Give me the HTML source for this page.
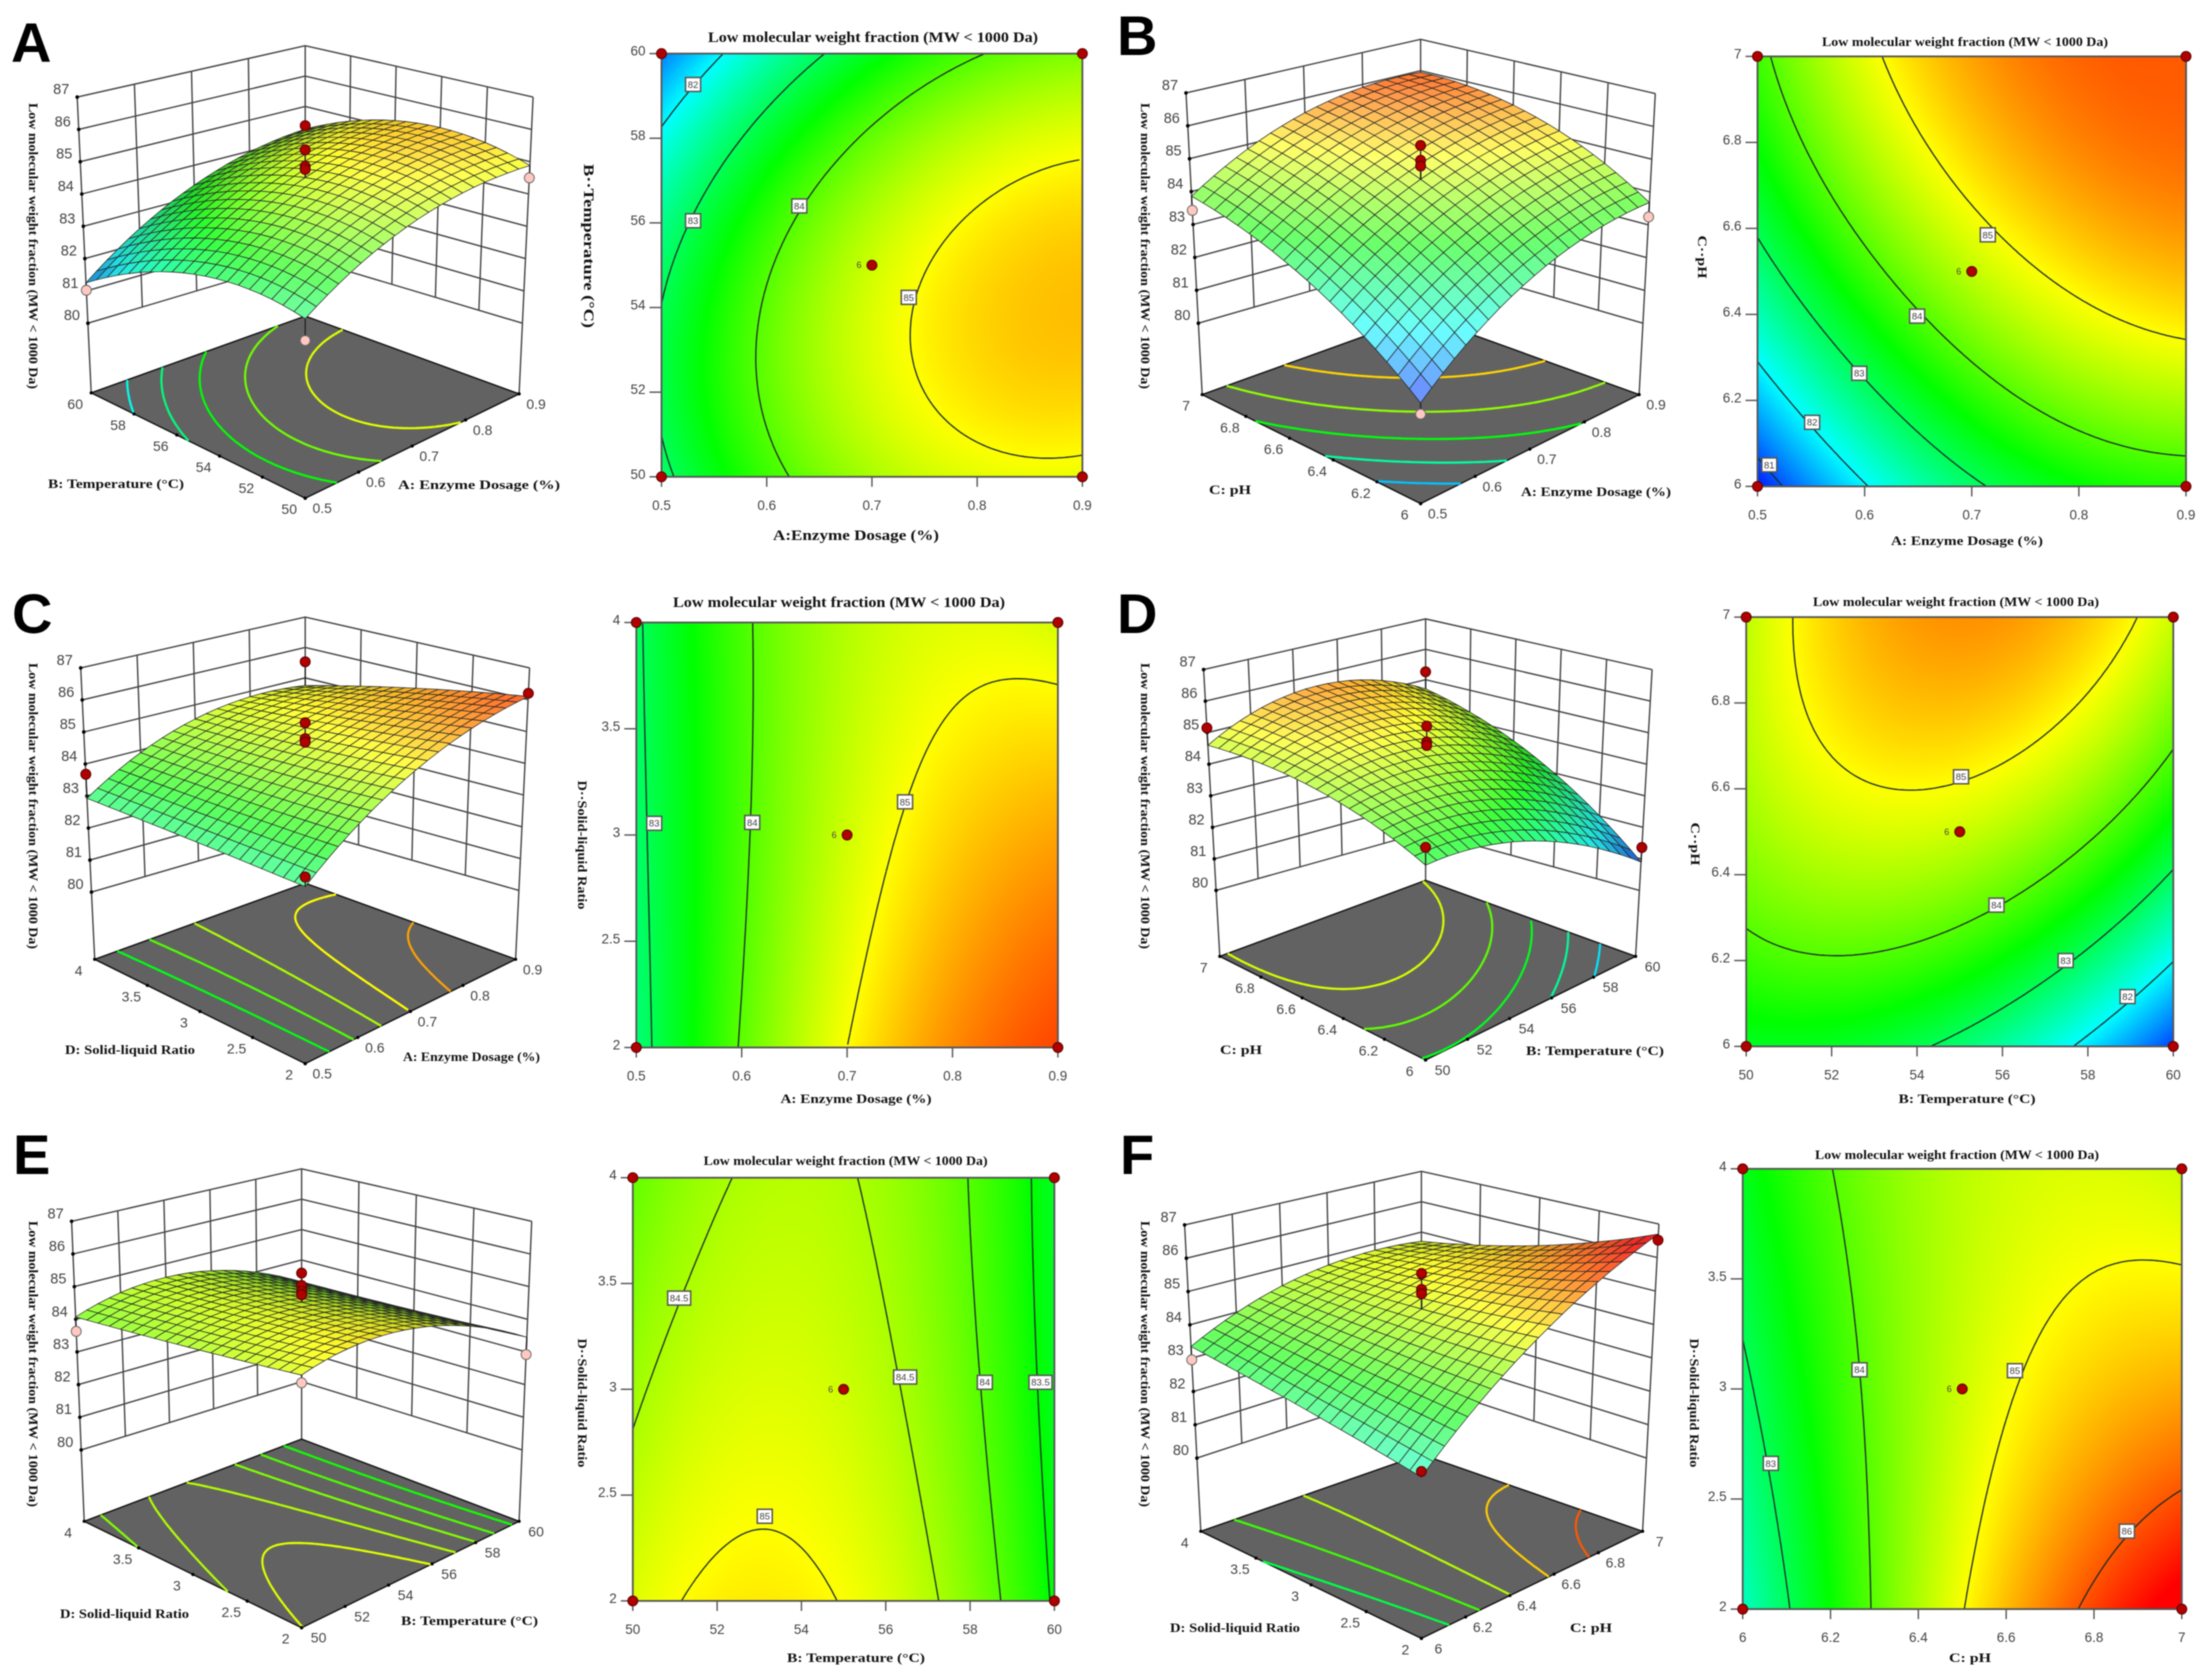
<!DOCTYPE html>
<html lang="en">
<head>
<meta charset="utf-8">
<title>Response surface and contour plots: low molecular weight fraction</title>
<style>
html,body{margin:0;padding:0;background:#fff;}
#stage{position:relative;width:2205px;height:1677px;overflow:hidden;background:#fff;filter:blur(0.5px);}
#stage canvas{position:absolute;display:block;}
#chart-svg{position:absolute;left:0;top:0;}
text{font-family:"Liberation Serif","Noto Serif CJK SC",serif;fill:#111;}
text.tk{font-family:"Liberation Sans",sans-serif;fill:#444;}
.ttl{font-weight:bold;}
.let{font-family:"Liberation Sans",sans-serif;font-weight:bold;font-size:56px;fill:#000;}
</style>
</head>
<body>
<div id="stage">
<svg id="chart-svg" width="2205" height="1677" viewBox="0 0 2205 1677">
<g id="marks"></g>
<g>
<text class="let" x="11" y="62">A</text>
<text class="let" x="1117" y="55">B</text>
<text class="let" x="12" y="633">C</text>
<text class="let" x="1117" y="633">D</text>
<text class="let" x="13" y="1174">E</text>
<text class="let" x="1120" y="1174">F</text>
</g>
<g>
<text class="ttl" font-size="15" x="708" y="42" textLength="330" lengthAdjust="spacingAndGlyphs">Low molecular weight fraction (MW &lt; 1000 Da)</text>
<text class="ttl" font-size="13" x="1822" y="46" textLength="286" lengthAdjust="spacingAndGlyphs">Low molecular weight fraction (MW &lt; 1000 Da)</text>
<text class="ttl" font-size="15" x="673" y="607" textLength="332" lengthAdjust="spacingAndGlyphs">Low molecular weight fraction (MW &lt; 1000 Da)</text>
<text class="ttl" font-size="13" x="1813" y="606" textLength="286" lengthAdjust="spacingAndGlyphs">Low molecular weight fraction (MW &lt; 1000 Da)</text>
<text class="ttl" font-size="13" x="703.6" y="1165" textLength="284" lengthAdjust="spacingAndGlyphs">Low molecular weight fraction (MW &lt; 1000 Da)</text>
<text class="ttl" font-size="13" x="1815" y="1159" textLength="284" lengthAdjust="spacingAndGlyphs">Low molecular weight fraction (MW &lt; 1000 Da)</text>
</g>
<g>
<text class="ttl" font-size="15" x="856" y="540" text-anchor="middle" textLength="166" lengthAdjust="spacingAndGlyphs">A:Enzyme Dosage (%)</text>
<text class="ttl" font-size="13" x="1967" y="545" text-anchor="middle" textLength="152" lengthAdjust="spacingAndGlyphs">A: Enzyme Dosage (%)</text>
<text class="ttl" font-size="13" x="856" y="1103" text-anchor="middle" textLength="151" lengthAdjust="spacingAndGlyphs">A: Enzyme Dosage (%)</text>
<text class="ttl" font-size="13" x="1967" y="1103" text-anchor="middle" textLength="137" lengthAdjust="spacingAndGlyphs">B: Temperature (°C)</text>
<text class="ttl" font-size="13" x="856" y="1662" text-anchor="middle" textLength="138" lengthAdjust="spacingAndGlyphs">B: Temperature (°C)</text>
<text class="ttl" font-size="13" x="1970" y="1662" text-anchor="middle" textLength="42" lengthAdjust="spacingAndGlyphs">C: pH</text>
</g>
<g>
<text class="ttl" font-size="15" transform="translate(584,246) rotate(90)" text-anchor="middle" textLength="164" lengthAdjust="spacingAndGlyphs">B··Temperature (°C)</text>
<text class="ttl" font-size="13" transform="translate(1698,257) rotate(90)" text-anchor="middle" textLength="43" lengthAdjust="spacingAndGlyphs">C··pH</text>
<text class="ttl" font-size="13" transform="translate(578,845) rotate(90)" text-anchor="middle" textLength="129" lengthAdjust="spacingAndGlyphs">D··Solid-liquid Ratio</text>
<text class="ttl" font-size="13" transform="translate(1691,844) rotate(90)" text-anchor="middle" textLength="43" lengthAdjust="spacingAndGlyphs">C··pH</text>
<text class="ttl" font-size="13" transform="translate(578,1403) rotate(90)" text-anchor="middle" textLength="129" lengthAdjust="spacingAndGlyphs">D··Solid-liquid Ratio</text>
<text class="ttl" font-size="13" transform="translate(1690,1403) rotate(90)" text-anchor="middle" textLength="129" lengthAdjust="spacingAndGlyphs">D··Solid-liquid Ratio</text>
</g>
<g>
<text class="ttl" font-size="12.5" transform="translate(29,246) rotate(90)" text-anchor="middle" textLength="286" lengthAdjust="spacingAndGlyphs">Low molecular weight fraction (MW &lt; 1000 Da)</text>
<text class="ttl" font-size="12.5" transform="translate(1141,246) rotate(90)" text-anchor="middle" textLength="286" lengthAdjust="spacingAndGlyphs">Low molecular weight fraction (MW &lt; 1000 Da)</text>
<text class="ttl" font-size="12.5" transform="translate(29,806) rotate(90)" text-anchor="middle" textLength="286" lengthAdjust="spacingAndGlyphs">Low molecular weight fraction (MW &lt; 1000 Da)</text>
<text class="ttl" font-size="12.5" transform="translate(1141,806) rotate(90)" text-anchor="middle" textLength="286" lengthAdjust="spacingAndGlyphs">Low molecular weight fraction (MW &lt; 1000 Da)</text>
<text class="ttl" font-size="12.5" transform="translate(29,1364) rotate(90)" text-anchor="middle" textLength="286" lengthAdjust="spacingAndGlyphs">Low molecular weight fraction (MW &lt; 1000 Da)</text>
<text class="ttl" font-size="12.5" transform="translate(1141,1364) rotate(90)" text-anchor="middle" textLength="286" lengthAdjust="spacingAndGlyphs">Low molecular weight fraction (MW &lt; 1000 Da)</text>
</g>
<g>
<text class="ttl" font-size="13" x="48" y="488" textLength="136" lengthAdjust="spacingAndGlyphs">B: Temperature (°C)</text>
<text class="ttl" font-size="13" x="398" y="489" textLength="162" lengthAdjust="spacingAndGlyphs">A: Enzyme Dosage (%)</text>
<text class="ttl" font-size="13" x="1209" y="494" textLength="42" lengthAdjust="spacingAndGlyphs">C: pH</text>
<text class="ttl" font-size="13" x="1521" y="496" textLength="150" lengthAdjust="spacingAndGlyphs">A: Enzyme Dosage (%)</text>
<text class="ttl" font-size="13" x="65" y="1054" textLength="130" lengthAdjust="spacingAndGlyphs">D: Solid-liquid Ratio</text>
<text class="ttl" font-size="13" x="403" y="1061" textLength="137" lengthAdjust="spacingAndGlyphs">A: Enzyme Dosage (%)</text>
<text class="ttl" font-size="13" x="1220" y="1054" textLength="42" lengthAdjust="spacingAndGlyphs">C: pH</text>
<text class="ttl" font-size="13" x="1526" y="1055" textLength="138" lengthAdjust="spacingAndGlyphs">B: Temperature (°C)</text>
<text class="ttl" font-size="13" x="60" y="1618" textLength="129" lengthAdjust="spacingAndGlyphs">D: Solid-liquid Ratio</text>
<text class="ttl" font-size="13" x="401" y="1625" textLength="137" lengthAdjust="spacingAndGlyphs">B: Temperature (°C)</text>
<text class="ttl" font-size="13" x="1170" y="1632" textLength="130" lengthAdjust="spacingAndGlyphs">D: Solid-liquid Ratio</text>
<text class="ttl" font-size="13" x="1570" y="1632" textLength="42" lengthAdjust="spacingAndGlyphs">C: pH</text>
</g>
</svg>
</div>
<script>
// ---- axis tick values ----
const enzymeTicks = [0.5, 0.6, 0.7, 0.8, 0.9];
const temperatureTicks = [50, 52, 54, 56, 58, 60];
const phTicks = [6, 6.2, 6.4, 6.6, 6.8, 7];
const ratioTicks = [2, 2.5, 3, 3.5, 4];
const responseTicks = [80, 81, 82, 83, 84, 85, 86, 87];

// ---- response read at low / mid / high of each factor (rows: y low to high, cols: x low to high) ----
const responseA = [[82.87, 84.49, 84.88], [82.88, 84.71, 85.35], [81.25, 83.37, 84.26]];
const responseB = [[80.66, 82.90, 83.68], [82.76, 84.63, 85.42], [83.86, 85.55, 85.95]];
const responseC = [[82.80, 85.00, 86.10], [82.88, 84.72, 85.53], [82.93, 84.55, 84.75]];
const responseD = [[83.30, 82.85, 80.90], [84.38, 84.70, 83.35], [84.60, 85.65, 84.70]];
const responseE = [[84.81, 84.98, 83.45], [84.43, 84.71, 83.33], [84.07, 84.53, 83.28]];
const responseF = [[82.36, 84.98, 86.70], [82.89, 84.71, 85.50], [83.35, 84.60, 84.70]];

// ---- contour levels on the 2D plots ----
const levelsA = [82, 83, 84, 85];
const levelsB = [81, 82, 83, 84, 85];
const levelsC = [83, 84, 85];
const levelsD = [82, 83, 84, 85];
const levelsE = [83.5, 84, 84.5, 85];
const levelsF = [83, 84, 85, 86];

// ---- contour levels projected on the 3D floor ----
const floorLevelsA = [82.1, 82.8, 83.48, 84.15, 84.82];
const floorLevelsB = [81.65, 82.55, 83.45, 84.35, 85.25];
const floorLevelsC = [83.4, 83.95, 84.5, 85.0, 85.55];
const floorLevelsD = [81.85, 82.6, 83.35, 84.05, 84.75];
const floorLevelsE = [83.6, 83.95, 84.25, 84.55, 84.82];
const floorLevelsF = [83.1, 83.85, 84.55, 85.3, 85.98];

// ---- contour label anchors: x, y, printed text ----
const labelsA = [[0.53, 59.27, '82'], [0.53, 56.05, '83'], [0.631, 56.4, '84'], [0.735, 54.24, '85']];
const labelsB = [[0.715, 6.585, '85'], [0.649, 6.396, '84'], [0.595, 6.263, '83'], [0.551, 6.149, '82'], [0.511, 6.05, '81']];
const labelsC = [[0.517, 3.055, '83'], [0.61, 3.059, '84'], [0.755, 3.156, '85']];
const labelsD = [[55.03, 6.628, '85'], [55.86, 6.329, '84'], [57.48, 6.2, '83'], [58.93, 6.116, '82']];
const labelsE = [[51.1, 3.431, '84.5'], [56.46, 3.058, '84.5'], [58.35, 3.033, '84'], [59.67, 3.033, '83.5'], [53.13, 2.4, '85']];
const labelsF = [[6.064, 2.662, '83'], [6.266, 3.087, '84'], [6.62, 3.083, '85'], [6.875, 2.354, '86']];

// ---- design points: x, y, measured response, state (r above surface, p below, h hidden under surface) ----
const pointsA = [[0.5, 60, 81.02, 'p'], [0.9, 50, 84.5, 'p'], [0.5, 50, 82.26, 'p'], [0.9, 60, 84.37, 'r'], [0.7, 55, 85.56, 'r'], [0.7, 55, 85.06, 'r'], [0.7, 55, 84.96, 'r']];
const pointsB = [[0.5, 7, 83.43, 'p'], [0.9, 6, 83.24, 'p'], [0.5, 6, 80.35, 'p'], [0.9, 7, 85.6, 'h'], [0.7, 6.5, 85.65, 'r'], [0.7, 6.5, 85.2, 'r'], [0.7, 6.5, 85.03, 'r']];
const pointsC = [[0.5, 4, 83.68, 'r'], [0.9, 2, 86.2, 'r'], [0.5, 2, 83.07, 'r'], [0.9, 4, 85.53, 'r'], [0.7, 3, 85.45, 'r'], [0.7, 3, 84.96, 'r'], [0.7, 3, 84.85, 'r']];
const pointsD = [[50, 7, 85.15, 'r'], [60, 6, 81.36, 'r'], [50, 6, 83.8, 'r'], [60, 7, 85.26, 'r'], [55, 6.5, 85.35, 'r'], [55, 6.5, 84.86, 'r'], [55, 6.5, 84.75, 'r']];
const pointsE = [[50, 4, 83.63, 'p'], [60, 2, 82.92, 'p'], [50, 2, 84.6, 'p'], [60, 4, 83.57, 'r'], [55, 3, 85.22, 'r'], [55, 3, 85.05, 'r'], [55, 3, 84.94, 'r']];
const pointsF = [[6, 4, 82.95, 'p'], [7, 2, 86.52, 'r'], [6, 2, 82.52, 'r'], [7, 4, 84.2, 'h'], [6.5, 3, 85.78, 'r'], [6.5, 3, 85.3, 'r'], [6.5, 3, 85.17, 'r']];

// ---- replicate count printed beside the centre point ----
const centerReplicates = '6';

// ---- layout: pixel geometry only ----
const panels = [
 {id:'a', grid:responseA, xt:enzymeTicks, yt:temperatureTicks, lev:levelsA, flev:floorLevelsA, lab:labelsA, pts:pointsA,
  frame:[661.5,1082.4,53.6,476.8],
  box:{L:[91.2,392.9],F:[305.2,498.2],R:[519.1,393.9],B:[305.2,316.1],L87:[77.2,97.1],L80y:323.2,R87y:97.1,R80y:323.2,B87y:45.7,sB:30.4,sF:35.7,gapF:77}},
 {id:'b', grid:responseB, xt:enzymeTicks, yt:phTicks, lev:levelsB, flev:floorLevelsB, lab:labelsB, pts:pointsB,
  frame:[1757.5,2186,56.4,486.4],
  box:{L:[1202.2,394.6],F:[1420.6,503.6],R:[1639.1,394.6],B:[1420.6,316],L87:[1186,92.9],L80y:323.2,R87y:93.6,R80y:323.2,B87y:39.3,sB:31.4,sF:35.7,gapF:77}},
 {id:'c', grid:responseC, xt:enzymeTicks, yt:ratioTicks, lev:levelsC, flev:floorLevelsC, lab:labelsC, pts:pointsC,
  frame:[636.3,1057.9,622.5,1047.5],
  box:{L:[94.7,959.3],F:[305.2,1063.6],R:[515.6,959.3],B:[305.2,883.2],L87:[80.7,667.9],L80y:892.1,R87y:667.9,R80y:890.4,B87y:617.1,sB:30.4,sF:35.7,gapF:77}},
 {id:'d', grid:responseD, xt:temperatureTicks, yt:phTicks, lev:levelsD, flev:floorLevelsD, lab:labelsD, pts:pointsD,
  frame:[1746.2,2173.3,617.1,1046.4],
  box:{L:[1219.8,956.4],F:[1425.6,1060],R:[1635.6,956.4],B:[1425.6,880.4],L87:[1203.6,669.6],L80y:890.4,R87y:669.6,R80y:890.4,B87y:618.9,sB:30.4,sF:35.7,gapF:77}},
 {id:'e', grid:responseE, xt:temperatureTicks, yt:ratioTicks, lev:levelsE, flev:floorLevelsE, lab:labelsE, pts:pointsE,
  frame:[632.8,1054.4,1177.7,1600.9],
  box:{L:[84.2,1521.3],F:[301.6,1627.7],R:[519.1,1521.3],B:[301.6,1439.1],L87:[71.6,1221.3],L80y:1449.9,R87y:1221.3,R80y:1449.9,B87y:1168.8,sB:30.4,sF:36.5,gapF:77}},
 {id:'f', grid:responseF, xt:phTicks, yt:ratioTicks, lev:levelsF, flev:floorLevelsF, lab:labelsF, pts:pointsF,
  frame:[1742.7,2181.8,1168.8,1609.1],
  box:{L:[1200.8,1531.3],F:[1421.4,1638.4],R:[1642.6,1531.3],B:[1421.4,1454.5],L87:[1184.6,1224.9],L80y:1458.1,R87y:1224.1,R80y:1458.1,B87y:1171.3,sB:30.4,sF:35.7,gapF:77}}
];

const SVGNS = 'http://www.w3.org/2000/svg';
const marks = document.getElementById('marks');
const stage = document.getElementById('stage');

function make(tag, attrs, parent) {
  const el = document.createElementNS(SVGNS, tag);
  for (const k in attrs) el.setAttribute(k, attrs[k]);
  parent.appendChild(el);
  return el;
}
function basis(p) { return [p * (p - 1) / 2, 1 - p * p, p * (p + 1) / 2]; }
function fieldAt(grid, u, v) {
  const bu = basis(2 * u - 1), bv = basis(2 * v - 1);
  let z = 0;
  for (let r = 0; r < 3; r++) for (let c = 0; c < 3; c++) z += grid[r][c] * bv[r] * bu[c];
  return z;
}
function rampColor(z) {
  const a = 80.5, q = 1.5;
  const f = Math.max(0, Math.min(3.9999, (z - a) / q));
  const i = Math.floor(f), w = f - i;
  if (i === 0) return [0, 255 * w, 255];
  if (i === 1) return [0, 255, 255 * (1 - w)];
  if (i === 2) return [255 * w, 255, 0];
  return [255, 255 * (1 - w), 0];
}
function cssColor(c) { return 'rgb(' + Math.round(c[0]) + ',' + Math.round(c[1]) + ',' + Math.round(c[2]) + ')'; }
function unit(val, ticks) { return (val - ticks[0]) / (ticks[ticks.length - 1] - ticks[0]); }
function fmt(n) { return String(n); }

function contourPath(grid, level, n, map) {
  let d = '';
  for (let i = 0; i < n; i++) for (let j = 0; j < n; j++) {
    const u0 = i / n, u1 = (i + 1) / n, v0 = j / n, v1 = (j + 1) / n;
    const a = fieldAt(grid, u0, v0) - level, b = fieldAt(grid, u1, v0) - level;
    const c = fieldAt(grid, u1, v1) - level, e = fieldAt(grid, u0, v1) - level;
    const hits = [];
    if (a * b < 0) hits.push([u0 + (u1 - u0) * a / (a - b), v0]);
    if (b * c < 0) hits.push([u1, v0 + (v1 - v0) * b / (b - c)]);
    if (c * e < 0) hits.push([u1 + (u0 - u1) * c / (c - e), v1]);
    if (e * a < 0) hits.push([u0, v1 + (v0 - v1) * e / (e - a)]);
    if (hits.length >= 2) {
      const p = map(hits[0][0], hits[0][1]), q = map(hits[1][0], hits[1][1]);
      d += 'M' + p[0].toFixed(1) + ' ' + p[1].toFixed(1) + 'L' + q[0].toFixed(1) + ' ' + q[1].toFixed(1);
    }
  }
  return d;
}

function makeProjector(b) {
  const cx = (b.F[0] + b.B[0]) / 2;
  const lean = ((cx - b.L87[0]) / (cx - b.L[0]) - 1) / (b.L[1] - b.L87[1]);
  const sL = (b.L80y - b.L87[1]) / 7, sR = (b.R80y - b.R87y) / 7;
  const gapL = b.L[1] - b.L80y, gapR = b.R[1] - b.R80y, gapB = b.B[1] - (b.B87y + 7 * b.sB);
  function bil(f, r, k, l, u, v) { return f * (1 - u) * (1 - v) + r * u * (1 - v) + k * u * v + l * (1 - u) * v; }
  return function (u, v, z) {
    const fx = bil(b.F[0], b.R[0], b.B[0], b.L[0], u, v), fy = bil(b.F[1], b.R[1], b.B[1], b.L[1], u, v);
    let ht = 0;
    if (z !== null) ht = bil(b.gapF, gapR, gapB, gapL, u, v) + (z - 80) * bil(b.sF, sR, b.sB, sL, u, v);
    return [cx + (fx - cx) * (1 + lean * ht), fy - ht];
  };
}
function pts(list) { return list.map(p => p[0].toFixed(1) + ',' + p[1].toFixed(1)).join(' '); }

function drawSurfacePanel(p) {
  const P = makeProjector(p.box);
  const root = make('g', {}, marks);
  
  
  const nu = p.xt.length - 1, nv = p.yt.length - 1;

  // back walls
  const walls = make('g', {fill: 'none', stroke: '#444', 'stroke-width': 1.4}, root);
  
  
  responseTicks.forEach(z => {
    const line = make('polyline', {points: pts([P(0, 1, z), P(1, 1, z), P(1, 0, z)])}, walls);
    
    
  });
  for (let i = 1; i < nu; i++) {
    const line = make('polyline', {points: pts([P(i / nu, 1, 80), P(i / nu, 1, 87)])}, walls);
    
    
  }
  for (let j = 1; j < nv; j++) {
    const line = make('polyline', {points: pts([P(1, j / nv, 80), P(1, j / nv, 87)])}, walls);
    
    
  }
  [[0, 1], [1, 1], [1, 0]].forEach(c => {
    const line = make('polyline', {points: pts([P(c[0], c[1], null), P(c[0], c[1], 87)])}, walls);
    
    
  });

  // floor
  const floor = make('polygon', {points: pts([P(0, 0, null), P(1, 0, null), P(1, 1, null), P(0, 1, null)]), fill: '#626262', stroke: '#111', 'stroke-width': 1.4}, root);
  
  
  p.flev.forEach(level => {
    const c = make('path', {d: contourPath(p.grid, level, 70, (u, v) => P(u, v, null)), fill: 'none', stroke: cssColor(rampColor(level)), 'stroke-width': 2.2}, root);
    
    
  });

  // floor ticks and labels
  p.xt.forEach((v, i) => {
    const q = P(i / nu, 0, null);
    const dot = make('circle', {cx: q[0], cy: q[1], r: 1.6, fill: '#000'}, root);
    
    
    const t = make('text', {class: 'tk', x: q[0] + 17, y: q[1] + 15, 'font-size': 14, 'text-anchor': 'middle'}, root);
    t.textContent = fmt(v);
    
    
  });
  p.yt.forEach((v, j) => {
    const q = P(0, j / nv, null);
    const dot = make('circle', {cx: q[0], cy: q[1], r: 1.6, fill: '#000'}, root);
    
    
    const t = make('text', {class: 'tk', x: q[0] - 16, y: q[1] + 16, 'font-size': 14, 'text-anchor': 'middle'}, root);
    t.textContent = fmt(v);
    
    
  });
  responseTicks.forEach(z => {
    const q = P(0, 1, z);
    const dot = make('circle', {cx: q[0], cy: q[1], r: 1.8, fill: '#000'}, root);
    
    
    const t = make('text', {class: 'tk', x: q[0] - 16, y: q[1] - 3, 'font-size': 14.5, 'text-anchor': 'middle'}, root);
    t.textContent = fmt(z);
    
    
  });

  function drawPoint(d, parent) {
    const u = unit(d[0], p.xt), v = unit(d[1], p.yt);
    const a = P(u, v, d[2]), b = P(u, v, fieldAt(p.grid, u, v));
    const stem = make('line', {x1: a[0], y1: a[1], x2: b[0], y2: b[1], stroke: '#222', 'stroke-width': 1.3}, parent);
    
    
    const dot = make('circle', {cx: a[0], cy: a[1], r: 5, fill: d[3] === 'r' ? '#b00000' : '#ffc8c0', stroke: d[3] === 'r' ? '#500' : '#666', 'stroke-width': 0.9}, parent);
    
    
  }
  p.pts.filter(d => d[3] === 'h').forEach(d => drawPoint(d, root));

  // surface facets, far to near
  const n = 20, k = 0.107;
  const surf = make('g', {stroke: '#262626', 'stroke-width': 0.7, 'stroke-linejoin': 'round'}, root);
  
  
  for (let i = n - 1; i >= 0; i--) for (let j = n - 1; j >= 0; j--) {
    const u0 = i / n, u1 = (i + 1) / n, v0 = j / n, v1 = (j + 1) / n;
    const z00 = fieldAt(p.grid, u0, v0), z10 = fieldAt(p.grid, u1, v0), z11 = fieldAt(p.grid, u1, v1), z01 = fieldAt(p.grid, u0, v1);
    const zm = (z00 + z10 + z11 + z01) / 4;
    const dzu = ((z10 + z11) - (z00 + z01)) / 2 * n, dzv = ((z01 + z11) - (z00 + z10)) / 2 * n;
    const lit = (k * dzu * 0.5 + k * dzv * 0.5 + 0.707) / Math.sqrt(1 + k * k * (dzu * dzu + dzv * dzv)) / 0.707;
    let col = rampColor(zm);
    if (lit >= 1) { const w = Math.min(0.42, (lit - 1) * 0.9 + 0.17); col = col.map(c => c + (255 - c) * w); }
    else { const w = Math.pow(lit, 0.9); const m = 0.17 * w; col = col.map(c => (c + (255 - c) * m) * w); }
    const facet = make('polygon', {points: pts([P(u0, v0, z00), P(u1, v0, z10), P(u1, v1, z11), P(u0, v1, z01)]), fill: cssColor(col)}, surf);
    
    
  }
  p.pts.filter(d => d[3] !== 'h').forEach(d => drawPoint(d, root));
}

function drawContourPanel(p) {
  const x0 = p.frame[0], x1 = p.frame[1], y0 = p.frame[2], y1 = p.frame[3];
  const X = u => x0 + (x1 - x0) * u, Y = v => y1 - (y1 - y0) * v;

  const cv = document.createElement('canvas');
  const W = Math.round(x1 - x0), H = Math.round(y1 - y0);
  cv.width = W;
  cv.height = H;
  cv.style.left = Math.round(x0) + 'px';
  cv.style.top = Math.round(y0) + 'px';
  
  
  stage.insertBefore(cv, stage.firstChild);
  const ctx = cv.getContext('2d');
  const img = ctx.createImageData(W, H);
  for (let py = 0; py < H; py++) for (let px = 0; px < W; px++) {
    const c = rampColor(fieldAt(p.grid, (px + 0.5) / W, 1 - (py + 0.5) / H));
    const o = (py * W + px) * 4;
    img.data[o] = c[0];
    img.data[o + 1] = c[1];
    img.data[o + 2] = c[2];
    img.data[o + 3] = 255;
  }
  ctx.putImageData(img, 0, 0);

  const root = make('g', {}, marks);
  
  

  p.lev.forEach(level => {
    const c = make('path', {d: contourPath(p.grid, level, 140, (u, v) => [X(u), Y(v)]), fill: 'none', stroke: '#1a2a2a', 'stroke-width': 1.3}, root);
    
    
  });

  const frame = make('rect', {x: x0, y: y0, width: x1 - x0, height: y1 - y0, fill: 'none', stroke: '#555', 'stroke-width': 1.8}, root);
  
  

  p.xt.forEach(v => {
    const x = X(unit(v, p.xt));
    const tick = make('line', {x1: x, x2: x, y1: y1, y2: y1 + 10, stroke: '#555', 'stroke-width': 1.4}, root);
    
    
    const t = make('text', {class: 'tk', x: x, y: y1 + 33, 'font-size': 13.5, 'text-anchor': 'middle'}, root);
    t.textContent = fmt(v);
    
    
  });
  p.yt.forEach(v => {
    const y = Y(unit(v, p.yt));
    const tick = make('line', {x1: x0 - 12, x2: x0, y1: y, y2: y, stroke: '#555', 'stroke-width': 1.4}, root);
    
    
    const t = make('text', {class: 'tk', x: x0 - 16, y: y + 2, 'font-size': 13.5, 'text-anchor': 'end'}, root);
    t.textContent = fmt(v);
    
    
  });

  p.lab.forEach(l => {
    const x = X(unit(l[0], p.xt)), y = Y(unit(l[1], p.yt));
    const w = l[2].length > 2 ? 23 : 15;
    const box = make('rect', {x: x - w / 2, y: y - 7, width: w, height: 14, fill: '#fff', stroke: '#555', 'stroke-width': 1.5}, root);
    
    
    const t = make('text', {class: 'tk', x: x, y: y + 3.4, 'font-size': 9.5, 'text-anchor': 'middle'}, root);
    t.textContent = l[2];
    
    
  });

  const seen = {};
  p.pts.forEach(d => {
    const key = d[0] + '/' + d[1];
    if (seen[key]) return;
    seen[key] = 1;
    const x = X(unit(d[0], p.xt)), y = Y(unit(d[1], p.yt));
    const dot = make('circle', {cx: x, cy: y, r: 5, fill: '#b00000', stroke: '#500', 'stroke-width': 0.9}, root);
    
    
  });
  const cxp = X(0.5), cyp = Y(0.5);
  const rep = make('text', {class: 'tk', x: cxp - 13, y: cyp + 3, 'font-size': 9, 'text-anchor': 'middle'}, root);
  rep.textContent = centerReplicates;
  
  
}

panels.forEach(p => { drawSurfacePanel(p); drawContourPanel(p); });
</script>
</body>
</html>
